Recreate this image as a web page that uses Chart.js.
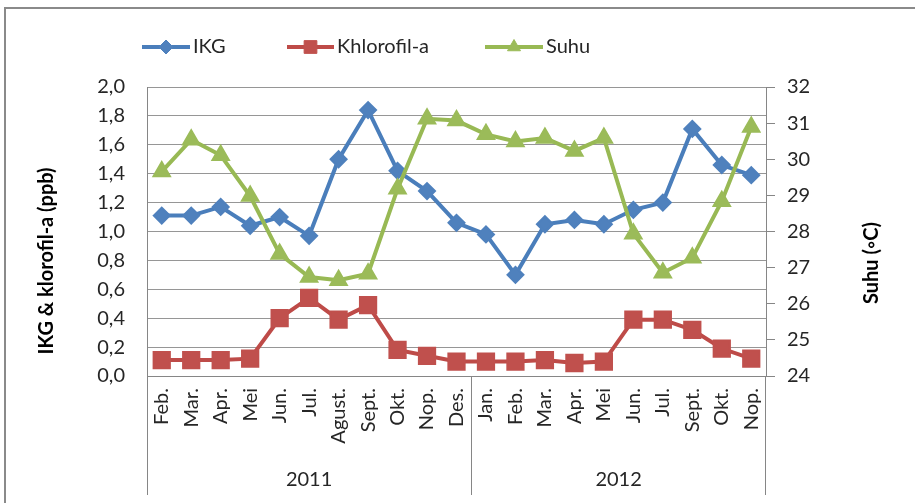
<!DOCTYPE html>
<html>
<head>
<meta charset="utf-8">
<script src="https://cdn.jsdelivr.net/npm/chart.js@4/dist/chart.umd.min.js"></script>
<style>
html,body{margin:0;padding:0;background:#fff;}
#wrap{width:915px;height:503px;position:relative;}
</style>
</head>
<body>
<div id="wrap"><canvas id="c" width="915" height="503"></canvas></div>
<script>
// ---- data ----
const months = ['Feb.','Mar.','Apr.','Mei','Jun.','Jul.','Agust.','Sept.','Okt.','Nop.','Des.',
                'Jan.','Feb.','Mar.','Apr.','Mei','Jun.','Jul.','Sept.','Okt.','Nop.'];
const monthYears = ['2011','2011','2011','2011','2011','2011','2011','2011','2011','2011','2011',
                    '2012','2012','2012','2012','2012','2012','2012','2012','2012','2012'];
const ikg = [1.11,1.11,1.17,1.04,1.10,0.97,1.50,1.84,1.42,1.28,1.06,
             0.98,0.70,1.05,1.08,1.05,1.15,1.20,1.71,1.46,1.39];
const khlorofil = [0.11,0.11,0.11,0.12,0.40,0.54,0.39,0.49,0.18,0.14,0.10,
                   0.10,0.10,0.11,0.09,0.10,0.39,0.39,0.32,0.19,0.12];
const suhu = [29.66,30.54,30.11,28.98,27.38,26.74,26.65,26.83,29.18,31.12,31.07,
              30.69,30.49,30.59,30.23,30.59,27.94,26.86,27.27,28.84,30.89];
const leftTicks = {min:0, max:2, step:0.2};
const rightTicks = {min:24, max:32, step:1};
const leftTitle = 'IKG & klorofil-a (ppb)';
const rightTitle = 'Suhu (\u25E6C)';

// year groups derived from monthYears
const years = [];
const yearCenters = [];
monthYears.forEach((y,i)=>{
  if(!years.length || years[years.length-1].label!==y) years.push({label:y,first:i,last:i});
  else years[years.length-1].last=i;
});
years.forEach(g=>yearCenters.push((g.first+g.last)/2));

const GRID='#969696', AXIS='#868686', TXT='#262626';
const FONT='Lato';

const styles = {
  ikg:{line:'#4A7EBB', fill:'#4F81BD', point:'rectRot', r:8},
  khl:{line:'#BE4B48', fill:'#C0504D', point:'rect', r:11.5},
  suhu:{line:'#98B954', fill:'#9BBB59', point:'triangle', r:9.5}
};

function ds(label, data, st, axis, order){
  return {label, data, yAxisID:axis, order,
    borderColor:st.line, backgroundColor:st.fill, borderWidth:4,
    pointStyle:st.point, pointRadius:st.r, pointBorderWidth:2,
    pointBorderColor:st.fill, pointBackgroundColor:st.fill,
    tension:0, fill:false};
}

const framePlugin = {
  id:'frame',
  afterDraw(chart){
    const ctx = chart.ctx;
    ctx.save();
    // outer frame
    ctx.strokeStyle='#8a8a8a'; ctx.lineWidth=2;
    ctx.beginPath(); ctx.moveTo(5,520); ctx.lineTo(5,8); ctx.lineTo(930,8); ctx.stroke();
    // legend
    const items=[{t:'IKG',s:styles.ikg,x:142,w:48},{t:'Khlorofil-a',s:styles.khl,x:287,w:47},{t:'Suhu',s:styles.suhu,x:485,w:58}];
    const ly=47;
    const legR={rectRot:7,rect:9,triangle:7.5};
    items.forEach(it=>{
      ctx.strokeStyle=it.s.line; ctx.lineWidth=4;
      ctx.beginPath(); ctx.moveTo(it.x,ly); ctx.lineTo(it.x+it.w,ly); ctx.stroke();
      ctx.fillStyle=it.s.fill; ctx.strokeStyle=it.s.fill; ctx.lineWidth=1;
      Chart.helpers.drawPoint(ctx,{pointStyle:it.s.point,radius:legR[it.s.point],borderWidth:1},it.x+it.w/2,ly);
      ctx.fillStyle=TXT; ctx.font='20px '+FONT; ctx.textBaseline='middle'; ctx.textAlign='left';
      ctx.fillText(it.t,it.x+it.w+3,ly);
    });
    // axis titles
    ctx.font='bold 20px '+FONT; ctx.fillStyle='#000'; ctx.textAlign='center'; ctx.textBaseline='middle';
    ctx.save(); ctx.translate(47,261); ctx.rotate(-Math.PI/2); ctx.fillText(leftTitle,0,0); ctx.restore();
    ctx.save(); ctx.translate(872,263); ctx.rotate(-Math.PI/2); ctx.fillText(rightTitle,0,0); ctx.restore();
    ctx.restore();
  }
};

new Chart(document.getElementById('c'), {
  type:'line',
  data:{
    labels:months,
    datasets:[
      ds('IKG', ikg, styles.ikg, 'y', 3),
      ds('Khlorofil-a', khlorofil, styles.khl, 'y', 2),
      ds('Suhu', suhu, styles.suhu, 'y1', 1)
    ]
  },
  options:{
    responsive:false, animation:false, events:[], devicePixelRatio:1,
    layout:{padding:{top:87,left:0,right:0,bottom:0}},
    plugins:{legend:{display:false}, tooltip:{enabled:false}},
    scales:{
      x:{type:'category', position:'bottom', weight:0, offset:true,
        grid:{display:true, drawOnChartArea:false, drawTicks:true, tickLength:119, offset:true, lineWidth:1,
          color:(c)=>{ if(c.index===undefined) return AXIS; const i=c.index; return (i===0 || monthYears[i]!==monthYears[i-1]) ? AXIS : 'rgba(0,0,0,0)'; }},
        border:{display:true, color:AXIS, width:1},
        ticks:{autoSkip:false, maxRotation:90, minRotation:90, padding:-107, color:TXT, font:{family:FONT,size:20}},
        afterFit:(s)=>{s.height=80;}
      },
      x2:{type:'linear', position:'bottom', weight:1, min:-0.5, max:months.length-0.5,
        grid:{display:false, drawTicks:false}, border:{display:false},
        ticks:{autoSkip:false, maxRotation:0, padding:12, color:TXT, font:{family:FONT,size:20},
          callback:(v)=>{ const k=yearCenters.indexOf(v); return k>=0?years[k].label:''; }},
        afterBuildTicks:(s)=>{ s.ticks = yearCenters.map(v=>({value:v})); },
        afterFit:(s)=>{s.height=47;}
      },
      y:{type:'linear', position:'left', min:leftTicks.min, max:leftTicks.max,
        grid:{color:GRID, drawTicks:false, lineWidth:1},
        border:{display:true, color:AXIS},
        ticks:{stepSize:leftTicks.step, padding:22, color:TXT, font:{family:FONT,size:20},
          callback:(v)=>Number(v).toFixed(1).replace('.',',')},
        afterFit:(s)=>{s.width=147;}
      },
      y1:{type:'linear', position:'right', min:rightTicks.min, max:rightTicks.max,
        grid:{drawOnChartArea:false, drawTicks:true, tickLength:9, color:AXIS},
        border:{display:true, color:AXIS},
        ticks:{stepSize:rightTicks.step, padding:12, color:TXT, font:{family:FONT,size:20}},
        afterFit:(s)=>{s.width=149;}
      }
    }
  },
  plugins:[framePlugin]
});
</script>
</body>
</html>
